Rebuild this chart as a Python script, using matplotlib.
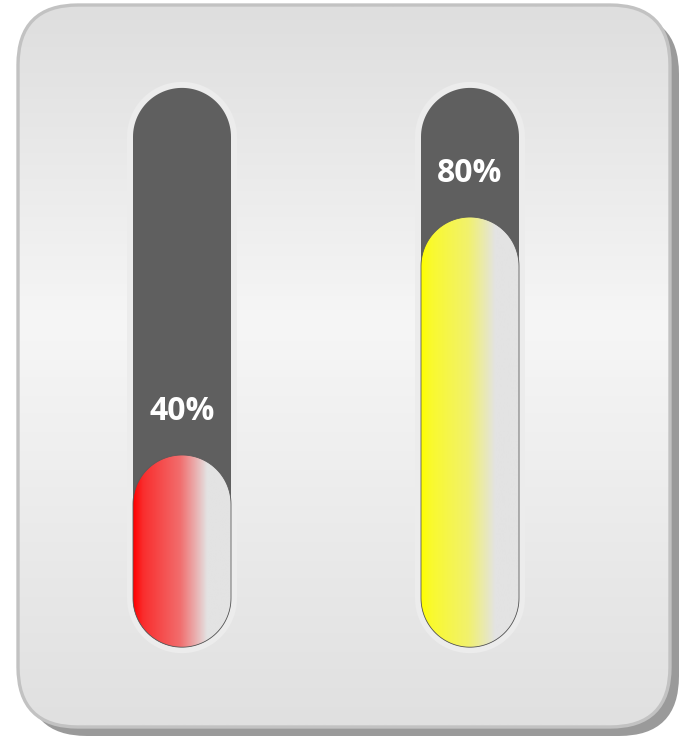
import matplotlib.pyplot as plt
import numpy as np
from matplotlib.patches import FancyBboxPatch, Polygon
from matplotlib.colors import LinearSegmentedColormap, to_rgb

# gauge data
labels = ['40%', '80%']
values = [40, 80]
fill_colors = ['#ff0000', '#ffff00']

W, H = 684, 736
fig = plt.figure(figsize=(W / 100, H / 100), dpi=100)
fig.patch.set_facecolor('white')


def card_box(ax, x0, y0, w, h, r, **kw):
    p = FancyBboxPatch((x0, y0), w, h,
                       boxstyle='round,pad=0,rounding_size=%f' % r, **kw)
    ax.add_patch(p)
    return p


def capsule(ax, cx, bottom, top, rx, ry, **kw):
    # vertical capsule with semicircular ends (rx, ry: radius in x / y units)
    ry = min(ry, (top - bottom) / 2)
    t = np.linspace(0, np.pi, 60)
    upper = np.column_stack([cx + rx * np.cos(t), top - ry + ry * np.sin(t)])
    lower = np.column_stack([cx - rx * np.cos(t), bottom + ry - ry * np.sin(t)])
    p = Polygon(np.vstack([upper, lower]), closed=True, **kw)
    ax.add_patch(p)
    return p


def mix(c, k):
    # blend colour c toward light grey by fraction k
    return tuple((1 - k) * np.array(to_rgb(c)) + k * np.array([0.89] * 3))


# background card (pixel coords, y down)
bg = fig.add_axes([0, 0, 1, 1])
bg.axis('off')

card_box(bg, 27, 14, 652, 722, 60, facecolor='#9a9a9a', edgecolor='none', zorder=1)
card = card_box(bg, 18, 5, 652, 722, 60, facecolor='none', edgecolor='none')
card_cmap = LinearSegmentedColormap.from_list(
    'card', [(0, '#dedede'), (0.44, '#f6f6f6'), (1, '#e0e0e0')])
grad = np.linspace(0, 1, 400)[:, None]
im = bg.imshow(grad, extent=(18, 670, 727, 5), aspect='auto', cmap=card_cmap,
               interpolation='bilinear', zorder=2)
im.set_clip_path(card)
card_box(bg, 18, 5, 652, 722, 60, facecolor='none', edgecolor='#c2c2c2', lw=2.4,
         zorder=3)
bg.set_xlim(0, W)
bg.set_ylim(H, 0)

# gauge axes: x = gauge index, y = percent
ax = fig.add_axes([38 / W, 43 / H, 576 / W, 595 / H])
ax.axis('off')

px_x = 2 / 576          # x units per pixel
px_y = 100 / 595        # y units per pixel
half_w = 49 * px_x
rad_y = 49 * px_y
tube_bottom = 7.7
tube_top = 101.7
glow_x = 6 * px_x
glow_y = 6 * px_y

for i, (val, lab, col) in enumerate(zip(values, labels, fill_colors)):
    # light rim around the tube
    capsule(ax, i, tube_bottom - glow_y, tube_top + glow_y, half_w + glow_x,
            rad_y + glow_y, facecolor='#ececec', edgecolor='none',
            clip_on=False, zorder=1)
    # dark tube
    capsule(ax, i, tube_bottom, tube_top, half_w, rad_y, facecolor='#5f5f5f',
            edgecolor='none', clip_on=False, zorder=2)

    # level fill with horizontal gradient
    fill = capsule(ax, i, tube_bottom, val, half_w, rad_y, facecolor='none',
                   edgecolor='none')
    cmap = LinearSegmentedColormap.from_list(
        'fill%d' % i, [(0, col), (0.1, mix(col, 0.2)), (0.48, mix(col, 0.48)),
                       (0.63, mix(col, 0.75)), (0.76, '#e3e3e3'),
                       (1, '#e3e3e3')])
    hgrad = np.linspace(0, 1, 200)[None, :]
    fim = ax.imshow(hgrad, extent=(i - half_w, i + half_w, tube_bottom, val),
                    aspect='auto', cmap=cmap, interpolation='bilinear', zorder=3)
    fim.set_clip_path(fill)
    capsule(ax, i, tube_bottom, val, half_w, rad_y, facecolor='none',
            edgecolor='#5a5a5a', lw=0.6, zorder=4)

    ax.text(i, val + 5.8, lab, ha='center', va='baseline', color='white',
            fontsize=23, fontweight='bold', family=['Open Sans', 'DejaVu Sans'],
            zorder=5)

ax.set_xlim(-0.5, 1.5)
ax.set_ylim(0, 100)
fig.savefig('out.png', dpi=100)
